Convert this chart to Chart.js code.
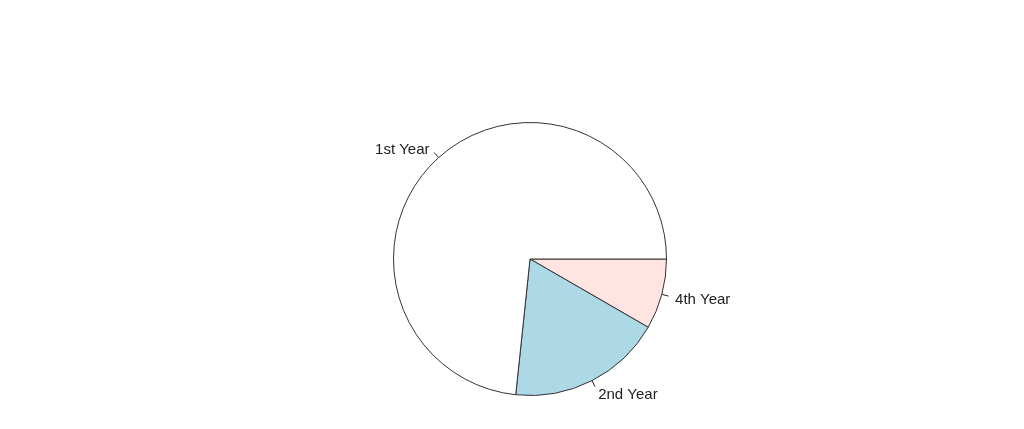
<!DOCTYPE html>
<html>
<head>
<meta charset="utf-8">
<script src="https://cdn.jsdelivr.net/npm/chart.js@4/dist/chart.umd.min.js"></script>
<style>
  html, body { margin: 0; padding: 0; background: #fff; }
  #wrap { width: 1024px; height: 429px; }
</style>
</head>
<body>
<div id="wrap"><canvas id="chart" width="1024" height="429"></canvas></div>
<script>
'use strict'

// slices in R order (counterclockwise from 3 o'clock)
const categories = ['1st Year', '2nd Year', '4th Year'];
const counts = [88, 22, 10];
const colors = ['#ffffff', '#add8e6', '#ffe4e1'];

// Chart.js goes clockwise, so feed it reversed to get R's counterclockwise look
const labels = categories.slice().reverse();
const values = counts.slice().reverse();
const fills = colors.slice().reverse();

// R style labels: tick from r to 1.05r, text at 1.1r
const pieLabels = {
    id: 'pieLabels',
    afterDatasetsDraw(chart) {
        const ctx = chart.ctx;
        const meta = chart.getDatasetMeta(0);
        ctx.save();
        ctx.font = '15px "Liberation Sans", Arial, sans-serif';
        ctx.fillStyle = '#222';
        ctx.strokeStyle = '#222';
        ctx.lineWidth = 1;
        ctx.textBaseline = 'middle';
        meta.data.forEach((arc, i) => {
            const p = arc.getProps(['x', 'y', 'startAngle', 'endAngle', 'outerRadius'], true);
            const mid = (p.startAngle + p.endAngle) / 2;
            const r = p.outerRadius;
            const cx = Math.cos(mid), cy = Math.sin(mid);
            ctx.beginPath();
            ctx.moveTo(p.x + cx * r, p.y + cy * r);
            ctx.lineTo(p.x + cx * r * 1.05, p.y + cy * r * 1.05);
            ctx.stroke();
            ctx.textAlign = cx < 0 ? 'right' : 'left';
            // nudge down a bit, R centres text lower than canvas does
            ctx.fillText(chart.data.labels[i], p.x + cx * r * 1.1, p.y + cy * r * 1.1 + 2);
        });
        ctx.restore();
    }
};

const ctx = document.getElementById('chart');
const chart = new Chart(ctx, {
    type: 'pie',
    data: {
        labels: labels,
        datasets: [{
            data: values,
            backgroundColor: fills,
            borderColor: '#333',
            borderWidth: 1
        }]
    },
    options: {
        responsive: false,
        animation: false,
        rotation: 90,
        layout: { padding: { left: 393, right: 357, top: 122, bottom: 33 } },
        plugins: {
            legend: { display: false },
            tooltip: { enabled: false }
        }
    },
    plugins: [pieLabels]
});
</script>
</body>
</html>
